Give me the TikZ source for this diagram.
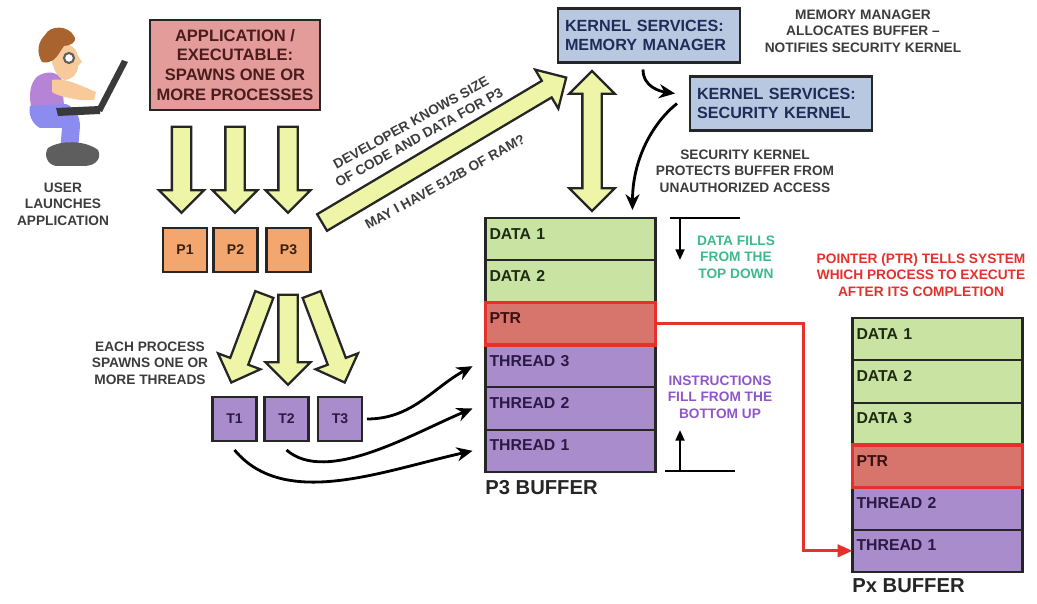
\documentclass[tikz,border=0pt]{standalone}
\usepackage{fontspec}
\setmainfont{Liberation Sans}
\usetikzlibrary{positioning}
\usetikzlibrary{shapes.arrows}
\usetikzlibrary{arrows.meta}

\definecolor{appfill}{HTML}{E39C99}
\definecolor{apptext}{HTML}{4A1C1C}
\definecolor{kernfill}{HTML}{B8C8E0}
\definecolor{kerntext}{HTML}{1E2C58}
\definecolor{procfill}{HTML}{F3A66E}
\definecolor{proctext}{HTML}{3A2010}
\definecolor{thrfill}{HTML}{A98CCB}
\definecolor{thrtext}{HTML}{2B1A45}
\definecolor{datafill}{HTML}{C9E3A3}
\definecolor{datatext}{HTML}{1F2A14}
\definecolor{ptrfill}{HTML}{D7746B}
\definecolor{ptrtext}{HTML}{3A1010}
\definecolor{ptrred}{HTML}{E4312B}
\definecolor{arrowfill}{HTML}{EEF5A6}
\definecolor{outline}{HTML}{262626}
\definecolor{notegray}{HTML}{3C3C3C}
\definecolor{notegreen}{HTML}{3DB98C}
\definecolor{notepurple}{HTML}{8E57C9}
\definecolor{hair}{HTML}{A8632E}
\definecolor{skin}{HTML}{F7C99B}
\definecolor{shirt}{HTML}{B584D6}
\definecolor{pants}{HTML}{8C8CF0}
\definecolor{shoe}{HTML}{5E5E5E}
\definecolor{laptop}{HTML}{3A3A3A}

\tikzset{
box/.style={ % dark framed boxes
	draw=outline, line width=1.4pt, inner sep=0pt, outer sep=0pt},
appbox/.style={box, fill=appfill, text=apptext, align=center,
	minimum width=3.4cm, minimum height=1.8cm,
	font=\bfseries\fontsize{9.4}{11.3}\selectfont},
kernbox/.style={box, fill=kernfill, text=kerntext, align=left,
	text width=3.36cm, minimum width=3.64cm, minimum height=1.08cm,
	font=\bfseries\fontsize{9.2}{10.4}\selectfont},
procbox/.style={box, fill=procfill, text=proctext,
	minimum width=0.88cm, minimum height=0.88cm,
	font=\bfseries\fontsize{8}{9}\selectfont},
thrbox/.style={procbox, fill=thrfill, text=thrtext},
row/.style={ % one slot of a buffer
	draw=outline, line width=1.2pt, outer sep=0pt,
	minimum width=3.4cm, minimum height=0.8467cm,
	text width=3.24cm, align=left, inner xsep=0.08cm, inner ysep=0pt,
	text height=0.25cm, text depth=0.25cm,
	font=\bfseries\fontsize{9}{10}\selectfont},
datarow/.style={row, fill=datafill, text=datatext},
thrrow/.style={row, fill=thrfill, text=thrtext},
ptrrow/.style={row, fill=ptrfill, draw=ptrred, line width=1.8pt, text=ptrtext},
buflabel/.style={inner sep=0pt, text=outline,
	font=\bfseries\fontsize{11.5}{12}\selectfont},
note/.style={inner sep=0pt, align=center, text=notegray,
	font=\bfseries\fontsize{7.8}{9.4}\selectfont},
blockarrow/.style={ % fat yellow arrows, shaft set by inner ysep
	single arrow, draw=outline, fill=arrowfill, line width=1.3pt,
	inner xsep=0pt, inner ysep=0.17cm, outer sep=0pt,
	single arrow head extend=0.26cm, single arrow head indent=0pt},
dblarrow/.style={double arrow, draw=outline, fill=arrowfill, line width=1.3pt,
	inner xsep=0pt, inner ysep=0.17cm, outer sep=0pt,
	double arrow head extend=0.26cm, double arrow head indent=0pt},
curarrow/.style={draw=black, line width=1.6pt, -{Stealth[length=9pt,width=8pt]}},
ptrline/.style={draw=ptrred, line width=1.8pt, -{Triangle[length=8.5pt,width=7pt]}},
marker/.style={draw=black, line width=1.3pt}
}

\begin{document}
\begin{tikzpicture}[x=0.02cm, y=-0.02cm]
	\useasboundingbox (0,0) rectangle (1037,604);

	% the user at his laptop
	\fill[shirt] (38,76) .. controls (48,70) and (58,72) .. (62,80) -- (64,106) -- (32,110) .. controls (28,96) and (30,82) .. (38,76) -- cycle;
	\fill[pants] (30,106) -- (66,104) .. controls (76,108) and (80,118) .. (80,126) -- (78,150) -- (60,152) -- (62,128) -- (40,128) .. controls (32,124) and (28,114) .. (30,106) -- cycle;
	\fill[shoe] (48,148) .. controls (60,140) and (85,140) .. (98,150) .. controls (102,158) and (96,166) .. (84,166) -- (56,166) .. controls (46,164) and (44,154) .. (48,148) -- cycle;
	\fill[skin] (52,80) .. controls (62,78) and (72,82) .. (82,86) -- (96,92) -- (94,100) -- (80,100) .. controls (68,98) and (58,96) .. (52,92) -- cycle;
	\fill[laptop] (56,108) -- (100,106) -- (100,114) -- (58,116) -- cycle;
	\fill[laptop] (96,110) -- (122,60) -- (128,62) -- (102,112) -- cycle;
	\fill[skin] (58,45) .. controls (66,42) and (76,46) .. (78,56) -- (82,62) -- (78,66) .. controls (78,74) and (72,80) .. (64,80) .. controls (58,78) and (54,70) .. (52,62) -- cycle;
	\fill[hair] (45,35) .. controls (50,25) and (68,25) .. (74,36) .. controls (78,42) and (70,46) .. (64,46) -- (60,52) .. controls (55,60) and (50,64) .. (42,62) .. controls (36,52) and (38,42) .. (45,35) -- cycle;
	\draw[shoe, line width=1.2pt, fill=white] (69,58) circle (0.1cm);
	\node[note] (user) at (63,204) {USER\\LAUNCHES\\APPLICATION};

	% application and its processes
	\node[appbox] (app) at (235,65) {APPLICATION /\\EXECUTABLE:\\SPAWNS ONE OR\\MORE PROCESSES};
	\node[blockarrow, minimum height=1.72cm, rotate=-90] (a1) at (181.5,165) {};
	\node[blockarrow, minimum height=1.72cm, rotate=-90] (a2) at (235,165) {};
	\node[blockarrow, minimum height=1.72cm, rotate=-90] (a3) at (288,165) {};
	\node[procbox] (p1) at (185,250) {P1};
	\node[procbox] (p2) at (235.5,250) {P2};
	\node[procbox] (p3) at (288.5,250) {P3};

	% threads of P3
	\node[blockarrow, minimum height=1.88cm, rotate=-110.6] (s1) at (249.5,334) {};
	\node[blockarrow, minimum height=1.88cm, rotate=-69.4] (s3) at (326.5,334) {};
	\node[blockarrow, minimum height=1.8cm, rotate=-90] (s2) at (288,335) {};
	\node[note] (spawn) at (150,363) {EACH PROCESS\\SPAWNS ONE OR\\MORE THREADS};
	\node[thrbox] (th1) at (234.5,419) {T1};
	\node[thrbox] (th2) at (286.5,419) {T2};
	\node[thrbox] (th3) at (340,419) {T3};

	% request for memory
	\node[blockarrow, minimum height=5.68cm, rotate=30.7] (req) at (440,152.5) {};
	\node[note, rotate=29] (dev) at (415,130) {DEVELOPER KNOWS SIZE\\OF CODE AND DATA FOR P3};
	\node[note, rotate=29] (ask) at (445,182) {MAY I HAVE 512B OF RAM?};

	% kernel
	\node[kernbox] (mm) at (649,35.5) {KERNEL SERVICES:\\MEMORY MANAGER};
	\node[kernbox] (sk) at (781,103.5) {KERNEL SERVICES:\\SECURITY KERNEL};
	\node[note] (alloc) at (863,31) {MEMORY MANAGER\\ALLOCATES BUFFER --\\NOTIFIES SECURITY KERNEL};
	\node[note] (protect) at (745,171) {SECURITY KERNEL\\PROTECTS BUFFER FROM\\UNAUTHORIZED ACCESS};
	\node[dblarrow, minimum height=2.8cm, rotate=90] (mmbuf) at (592,141) {};

	% P3 buffer
	\node[datarow] (d1) at (570.5,239.2) {DATA 1};
	\node[datarow, below=0pt of d1] (d2) {DATA 2};
	\node[thrrow, below=0.8467cm of d2] (t3) {THREAD 3};
	\node[thrrow, below=0pt of t3] (t2) {THREAD 2};
	\node[thrrow, below=0pt of t2] (t1) {THREAD 1};
	\node[ptrrow, below=0pt of d2] (ptr) {PTR};
	\node[buflabel, anchor=west] (p3buf) at (485,488) {P3 BUFFER};

	% fill directions
	\coordinate (dl) at (670,218);
	\coordinate (dr) at (740,218);
	\coordinate (da) at (680,218);
	\coordinate (db) at (680,260);
	\coordinate (il) at (665,471);
	\coordinate (ir) at (735,471);
	\coordinate (ia) at (680,471);
	\coordinate (ib) at (680,430);
	\draw[marker] (dl) -- (dr);
	\draw[marker, -{Triangle[length=6pt,width=5pt]}] (da) -- (db);
	\draw[marker] (il) -- (ir);
	\draw[marker, -{Triangle[length=6pt,width=5pt]}] (ia) -- (ib);
	\node[note, text=notegreen] (dfill) at (736,257) {DATA FILLS\\FROM THE\\TOP DOWN};
	\node[note, text=notepurple] (ifill) at (720,397) {INSTRUCTIONS\\FILL FROM THE\\BOTTOM UP};

	% Px buffer
	\node[note, text=ptrred] (ptrnote) at (921,275) {POINTER (PTR) TELLS SYSTEM\\WHICH PROCESS TO EXECUTE\\AFTER ITS COMPLETION};
	\node[datarow] (xd1) at (937.5,339.2) {DATA 1};
	\node[datarow, below=0pt of xd1] (xd2) {DATA 2};
	\node[datarow, below=0pt of xd2] (xd3) {DATA 3};
	\node[thrrow, below=0.8467cm of xd3] (xt2) {THREAD 2};
	\node[thrrow, below=0pt of xt2] (xt1) {THREAD 1};
	\node[ptrrow, below=0pt of xd3] (xptr) {PTR};
	\node[buflabel, anchor=west] (pxbuf) at (852,586) {Px BUFFER};

	% connectors
	\draw[curarrow] ([xshift=-0.12cm,yshift=-0.14cm]mm.south) .. controls +(0,18) and +(-14,-2) .. ([xshift=-0.3cm,yshift=0.2cm]sk.west);
	\draw[curarrow] ([xshift=-0.26cm]sk.west) .. controls +(-25,20) and +(0,-50) .. ([xshift=1.24cm,yshift=0.16cm]d1.north);
	\draw[curarrow] ([xshift=0.1cm]th3.east) .. controls +(45,0) and +(-40,22) .. ([xshift=-0.26cm]t3.west);
	\draw[curarrow] ([yshift=-0.18cm]th2.south) .. controls +(40,35) and +(-60,25) .. ([xshift=-0.26cm]t2.west);
	\draw[curarrow] ([yshift=-0.18cm]th1.south) .. controls +(50,60) and +(-90,20) .. ([xshift=-0.26cm]t1.west);
	\draw[ptrline] (ptr.east) -- ++(148,0) |- (xt1.west);
\end{tikzpicture}
\end{document}
